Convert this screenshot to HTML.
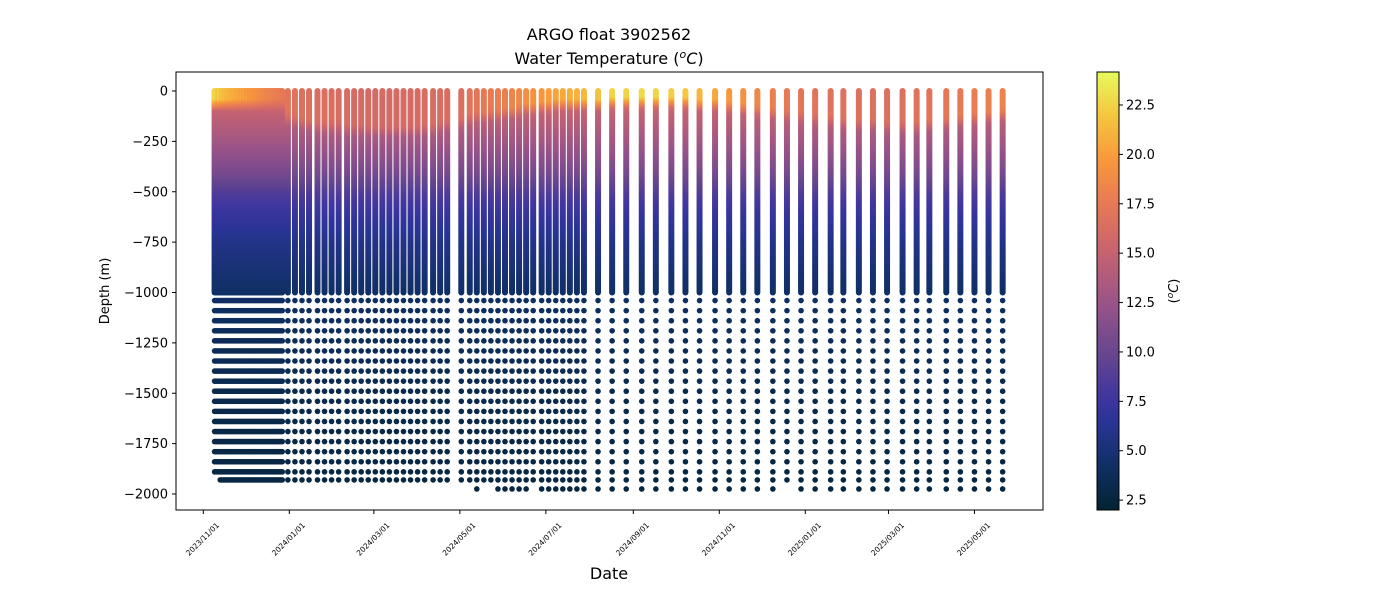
<!DOCTYPE html>
<html><head><meta charset="utf-8"><style>
html,body{margin:0;padding:0;background:#fff}
svg{display:block;font-family:"DejaVu Sans","Liberation Sans",sans-serif}
</style></head><body>
<svg id="chart" width="1400" height="600" viewBox="0 0 1400 600" xmlns="http://www.w3.org/2000/svg">
<defs id="defs"></defs>
<rect x="0" y="0" width="1400" height="600" fill="#fff"/>
<g id="plot"></g>
<rect x="176" y="72" width="867" height="438" fill="none" stroke="#000" stroke-width="1"/>
<g id="axes"></g>
<text x="609" y="40" text-anchor="middle" font-size="16">ARGO float 3902562</text>
<text x="609" y="64" text-anchor="middle" font-size="16">Water Temperature (<tspan font-style="italic" font-size="11" dy="-6">o</tspan><tspan font-style="italic" dy="6">C</tspan>)</text>
<text transform="translate(109,291) rotate(-90)" text-anchor="middle" font-size="13">Depth (m)</text>
<text x="609" y="579" text-anchor="middle" font-size="16">Date</text>
<g id="cbar"></g>
<text transform="translate(1178,291) rotate(-90)" text-anchor="middle" font-size="13">(<tspan font-style="italic" font-size="9" dy="-5">o</tspan><tspan font-style="italic" dy="5">C</tspan>)</text>
</svg>
<script>
// ---- data ----
const profileDays = [8,9,10,11,12,13,14,15,16,17,18,19,20,21,22,23,24,25,26,27,28,29,30,31,32,33,34,35,36,37,38,39,40,41,42,43,44,45,46,47,48,49,50,51,52,53,54,55,56,
60,65,70,75,81,86,91,96,102,107,112,117,122,127,132,137,142,147,152,157,163,168,173,
183,189,194,199,204,209,214,219,224,229,234,240,245,250,255,260,265,270,
280,290,300,311,321,332,342,352,363,373,383,393,404,414,424,434,445,454,465,475,485,496,506,515,527,537,547,557,567];
const profileSST = [22.5,22.8,22.2,21.8,22.6,21.5,22.0,21.2,21.6,21.0,21.4,20.8,21.2,20.6,21.0,20.4,20.8,20.2,20.6,20.0,20.4,19.8,20.2,19.6,20.0,19.4,19.8,19.2,19.6,19.0,19.4,18.8,19.2,18.6,19.0,18.4,18.8,18.2,18.6,18.0,18.4,17.9,18.2,17.7,18.0,17.6,17.8,17.5,17.5,
17.0,16.8,16.6,16.5,16.4,16.4,16.3,16.2,16.2,16.1,16.1,16.0,16.0,16.0,16.0,16.0,16.1,16.0,16.0,16.2,16.2,16.3,16.3,
16.5,17.0,17.2,17.4,17.6,17.8,18.0,18.3,18.6,19.0,19.3,19.6,20.0,20.3,20.6,20.8,21.0,21.3,
21.8,22.6,22.5,22.8,22.6,22.3,22.0,21.2,20.5,19.8,19.2,18.5,18.0,17.5,17.2,17.0,16.8,16.7,16.6,16.6,16.6,16.6,16.8,17.0,17.3,17.5,17.8,18.0,18.2];
const profileMLD = [40,40,40,40,40,40,40,40,40,40,40,40,40,40,40,40,40,40,40,40,40,40,40,40,40,40,40,40,40,40,40,40,40,40,40,40,40,40,40,40,40,40,40,40,40,40,40,40,40,
110,120,130,140,150,150,150,150,160,160,160,170,170,170,170,170,170,170,170,160,160,150,140,
130,110,100,100,90,90,80,80,70,60,60,50,50,40,40,40,40,40,
40,30,30,30,30,30,30,40,40,50,60,70,80,90,100,110,120,130,140,140,150,150,150,140,130,120,110,100,90];
const profileMaxDepth = [1890,1890,1890,1890,1930,1930,1930,1930,1930,1930,1930,1930,1930,1930,1930,1930,1930,1930,1930,1930,1930,1930,1930,1930,1930,1930,1930,1930,1930,1930,1930,1930,1930,1930,1930,1930,1930,1930,1930,1930,1930,1930,1930,1930,1930,1930,1930,1930,1930,
1930,1930,1930,1930,1930,1930,1930,1930,1930,1930,1930,1930,1930,1930,1930,1930,1930,1930,1930,1930,1930,1930,1930,
1930,1930,1975,1930,1930,1975,1975,1975,1975,1975,1930,1975,1975,1975,1975,1975,1975,1975,
1975,1975,1975,1975,1975,1975,1975,1975,1975,1975,1975,1975,1975,1930,1975,1975,1975,1975,1975,1975,1975,1975,1975,1975,1975,1975,1975,1975,1975];
const interiorDepth = [0,100,150,250,400,500,600,750,1000,1200,1500,2000];
const interiorTemp = [15.5,15.0,14.3,13.0,10.8,8.8,7.3,5.8,4.3,3.8,3.2,2.6];
const deepLevels = [1040,1090,1140,1190,1240,1290,1340,1390,1440,1490,1540,1590,1640,1690,1740,1790,1840,1890,1930,1975];
const yTicks = [0,-250,-500,-750,-1000,-1250,-1500,-1750,-2000];
const yTickLabels = ["0","\u2212250","\u2212500","\u2212750","\u22121000","\u22121250","\u22121500","\u22121750","\u22122000"];
const xTickLabels = ["2023/11/01","2024/01/01","2024/03/01","2024/05/01","2024/07/01","2024/09/01","2024/11/01","2025/01/01","2025/03/01","2025/05/01"];
const cbarTicks = [2.5,5.0,7.5,10.0,12.5,15.0,17.5,20.0,22.5];
const cbarTickLabels = ["2.5","5.0","7.5","10.0","12.5","15.0","17.5","20.0","22.5"];

// ---- scales ----
const NS="http://www.w3.org/2000/svg";
const X0=203.3, PXDAY=1.4098;
const xDay = d => X0 + d*PXDAY;
const yDepth = d => 91 + d*0.2015;
const VMIN=2.0, VMAX=24.17;
const cmapStops=[[0,[4,35,51]],[0.1,[15,47,99]],[0.2,[42,52,150]],[0.26,[63,53,160]],[0.35,[101,69,143]],[0.47,[152,83,137]],[0.59,[200,99,111]],[0.7,[232,121,85]],[0.8,[248,152,59]],[0.9,[244,198,62]],[1,[232,250,91]]];
function cmap(t){
  let f=(t-VMIN)/(VMAX-VMIN); f=Math.max(0,Math.min(1,f));
  for(let i=1;i<cmapStops.length;i++){
    if(f<=cmapStops[i][0]){
      const a=cmapStops[i-1],b=cmapStops[i],u=(f-a[0])/(b[0]-a[0]);
      const c=a[1].map((v,k)=>Math.round(v+(b[1][k]-v)*u));
      return `rgb(${c[0]},${c[1]},${c[2]})`;
    }
  }
  return 'rgb(232,250,91)';
}
function interior(z){
  for(let i=1;i<interiorDepth.length;i++){
    if(z<=interiorDepth[i]){
      const u=(z-interiorDepth[i-1])/(interiorDepth[i]-interiorDepth[i-1]);
      return interiorTemp[i-1]+(interiorTemp[i]-interiorTemp[i-1])*u;
    }
  }
  return interiorTemp[interiorTemp.length-1];
}
function tempAt(z,sst,mld){
  const b=interior(z);
  if(z<=mld) return Math.max(b,sst);
  const trans=60;
  if(z<=mld+trans){ const u=(z-mld)/trans; return Math.max(b, sst+(b-sst)*u); }
  return b;
}
function el(tag,attrs,parent){const e=document.createElementNS(NS,tag);for(const k in attrs)e.setAttribute(k,attrs[k]);parent.appendChild(e);return e;}

const defs=document.getElementById('defs');
const plot=document.getElementById('plot');
const sampleZ=[0,10,20,30,40,50,60,80,100,120,140,160,180,200,230,260,300,350,400,450,500,550,600,650,700,750,800,900,1000];

profileDays.forEach((d,i)=>{
  const gid='g'+i;
  const g=el('linearGradient',{id:gid,gradientUnits:'userSpaceOnUse',x1:0,y1:yDepth(0),x2:0,y2:yDepth(1000)},defs);
  sampleZ.forEach(z=>{el('stop',{offset:(z/1000).toFixed(3),'stop-color':cmap(tempAt(z,profileSST[i],profileMLD[i]))},g);});
  const r=el('rect',{x:xDay(d)-3,y:yDepth(0)-3,width:6,height:yDepth(1000)-yDepth(0)+6,rx:3,fill:`url(#${gid})`},plot);
  
  
});
profileDays.forEach((d,i)=>{
  deepLevels.forEach(z=>{
    if(z>profileMaxDepth[i]) return;
    const c=el('circle',{cx:xDay(d),cy:yDepth(z),r:2.8,fill:cmap(interior(z))},plot);
    
    
  });
});

const axes=document.getElementById('axes');
yTicks.forEach((v,i)=>{
  const y=yDepth(-v);
  const t=el('line',{x1:172,x2:176,y1:y,y2:y,stroke:'#000'},axes);
  
  
  const l=el('text',{x:168,y:y+4.5,'text-anchor':'end','font-size':13},axes);
  l.textContent=yTickLabels[i];
  
  
});
const base=Date.UTC(2023,10,1);
xTickLabels.forEach(s=>{
  const p=s.split('/').map(Number);
  const d=(Date.UTC(p[0],p[1]-1,p[2])-base)/86400000;
  const x=xDay(d);
  const t=el('line',{x1:x,x2:x,y1:510,y2:514,stroke:'#000'},axes);
  
  
  const l=el('text',{transform:`translate(${x+1},${541}) rotate(-45)`,'text-anchor':'middle','font-size':7.5},axes);
  l.textContent=s;
  
  
});

const cb=document.getElementById('cbar');
const cg=el('linearGradient',{id:'cbg',x1:0,y1:1,x2:0,y2:0},defs);
for(let k=0;k<=20;k++){const t=VMIN+(VMAX-VMIN)*k/20;el('stop',{offset:k/20,'stop-color':cmap(t)},cg);}
const cr=el('rect',{x:1097,y:72,width:22,height:438,fill:'url(#cbg)',stroke:'#000','stroke-width':1},cb);


const cy=t=>510-(t-VMIN)/(VMAX-VMIN)*438;
cbarTicks.forEach((t,i)=>{
  const y=cy(t);
  const tk=el('line',{x1:1119,x2:1123,y1:y,y2:y,stroke:'#000'},cb);
  
  
  const l=el('text',{x:1126,y:y+4.5,'font-size':13},cb);
  l.textContent=cbarTickLabels[i];
  
  
});
</script>
</body></html>
